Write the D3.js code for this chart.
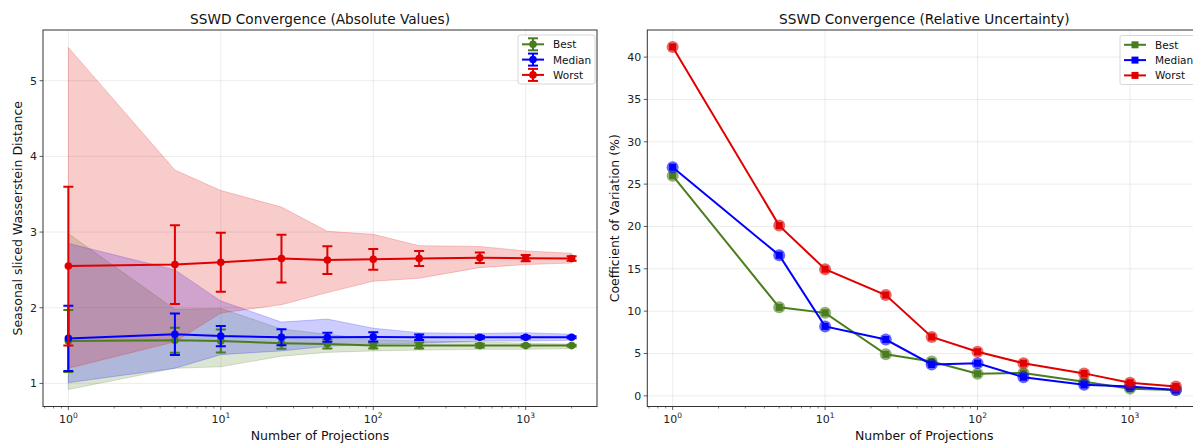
<!DOCTYPE html>
<html>
<head>
<meta charset="utf-8">
<script src="https://cdn.jsdelivr.net/npm/d3@7"></script>
<style>
  body { margin: 0; background: #fff; }
  svg { display: block; overflow: hidden; font-family: "DejaVu Sans", sans-serif; }
</style>
</head>
<body>
<svg id="chart" width="1193" height="443"></svg>
<script>
// number of projections
const projections = [1, 5, 10, 25, 50, 100, 200, 500, 1000, 2000];

// absolute values: mean, std (error bars), min/max (bands)
const bestMean = [1.56, 1.57, 1.56, 1.53, 1.52, 1.50, 1.50, 1.50, 1.50, 1.50];
const bestStd = [0.41, 0.165, 0.153, 0.073, 0.059, 0.039, 0.04, 0.024, 0.013, 0.011];
const bestMin = [0.92, 1.20, 1.22, 1.36, 1.41, 1.43, 1.44, 1.45, 1.45, 1.46];
const bestMax = [2.98, 1.98, 1.99, 1.72, 1.65, 1.58, 1.56, 1.55, 1.53, 1.52];

const medianMean = [1.595, 1.65, 1.625, 1.61, 1.61, 1.615, 1.61, 1.61, 1.61, 1.61];
const medianStd = [0.43, 0.275, 0.133, 0.106, 0.06, 0.062, 0.035, 0.021, 0.017, 0.012];
const medianMin = [1.01, 1.20, 1.38, 1.43, 1.49, 1.52, 1.53, 1.56, 1.56, 1.57];
const medianMax = [2.85, 2.50, 2.09, 1.81, 1.85, 1.73, 1.67, 1.66, 1.67, 1.65];

const worstMean = [2.55, 2.57, 2.60, 2.65, 2.63, 2.64, 2.65, 2.66, 2.655, 2.65];
const worstStd = [1.05, 0.52, 0.39, 0.315, 0.183, 0.137, 0.10, 0.07, 0.042, 0.03];
const worstMin = [1.20, 1.55, 1.93, 2.04, 2.20, 2.35, 2.39, 2.53, 2.57, 2.59];
const worstMax = [5.44, 3.82, 3.55, 3.33, 3.01, 2.97, 2.82, 2.81, 2.75, 2.72];

// relative uncertainty (coefficient of variation, %)
const cvBest = [26.0, 10.45, 9.8, 4.9, 4.05, 2.6, 2.7, 1.65, 0.85, 0.7];
const cvMedian = [27.0, 16.6, 8.2, 6.65, 3.7, 3.85, 2.2, 1.3, 1.1, 0.7];
const cvWorst = [41.2, 20.1, 14.95, 11.9, 6.95, 5.2, 3.85, 2.65, 1.55, 1.1];

const seriesNames = ["Best", "Median", "Worst"];
const seriesColors = ["#4a7d1e", "#0000ff", "#e00000"];
const absTicks = [1, 2, 3, 4, 5];
const cvTicks = [0, 5, 10, 15, 20, 25, 30, 35, 40];
const xTicks = [1, 10, 100, 1000];

const absSeries = [
  { mean: bestMean, std: bestStd, lo: bestMin, hi: bestMax },
  { mean: medianMean, std: medianStd, lo: medianMin, hi: medianMax },
  { mean: worstMean, std: worstStd, lo: worstMin, hi: worstMax },
];
const cvSeries = [cvBest, cvMedian, cvWorst];

const svg = d3.select("#chart");
const panelH = { top: 30, bottom: 406.5 };
const panelW = 554;

function drawFrame(g, x, y, yTicks, title, yLabel, labelGap) {
  const [x0, x1] = x.range();
  const [y0, y1] = y.range();

  // grid
  g.append("g").selectAll("line").data(xTicks).join("line")
    .attr("x1", d => x(d)).attr("x2", d => x(d))
    .attr("y1", y1).attr("y2", y0)
    .attr("stroke", "#b0b0b0").attr("stroke-opacity", 0.3).attr("stroke-width", 0.8);
  g.append("g").selectAll("line").data(yTicks).join("line")
    .attr("x1", x0).attr("x2", x1)
    .attr("y1", d => y(d)).attr("y2", d => y(d))
    .attr("stroke", "#b0b0b0").attr("stroke-opacity", 0.3).attr("stroke-width", 0.8);

  // x axis with log ticks
  const xa = g.append("g").attr("transform", `translate(0,${y0})`);
  const minor = [];
  for (let k = -1; k <= 3; k++) {
    for (let m = 2; m <= 9; m++) {
      const v = m * Math.pow(10, k);
      if (v >= x.domain()[0] && v <= x.domain()[1]) minor.push(v);
    }
  }
  xa.selectAll(".minor").data(minor).join("line")
    .attr("x1", d => x(d)).attr("x2", d => x(d))
    .attr("y1", 0).attr("y2", 2)
    .attr("stroke", "#333").attr("stroke-width", 0.6);
  xa.selectAll(".major").data(xTicks).join("line")
    .attr("x1", d => x(d)).attr("x2", d => x(d))
    .attr("y1", 0).attr("y2", 3.5)
    .attr("stroke", "#333").attr("stroke-width", 0.8);
  const lbl = xa.selectAll("text").data(xTicks).join("text")
    .attr("x", d => x(d)).attr("y", 16)
    .attr("text-anchor", "middle")
    .attr("font-size", 11).attr("fill", "#222");
  lbl.append("tspan").text("10");
  lbl.append("tspan").attr("dy", -5).attr("font-size", 7.5).text(d => Math.round(Math.log10(d)));

  // y axis
  const ya = g.append("g").attr("transform", `translate(${x0},0)`);
  ya.selectAll("line").data(yTicks).join("line")
    .attr("x1", -3.5).attr("x2", 0)
    .attr("y1", d => y(d)).attr("y2", d => y(d))
    .attr("stroke", "#333").attr("stroke-width", 0.8);
  ya.selectAll("text").data(yTicks).join("text")
    .attr("x", -6).attr("y", d => y(d) + 4)
    .attr("text-anchor", "end")
    .attr("font-size", 11).attr("fill", "#222")
    .text(d => d);

  // labels
  g.append("text")
    .attr("x", (x0 + x1) / 2).attr("y", 23.5)
    .attr("text-anchor", "middle").attr("font-size", 13.7).attr("fill", "#111")
    .text(title);
  g.append("text")
    .attr("x", (x0 + x1) / 2).attr("y", 439.5)
    .attr("text-anchor", "middle").attr("font-size", 12.5).attr("fill", "#111")
    .text("Number of Projections");
  g.append("text")
    .attr("transform", `translate(${x0 - labelGap},${(y0 + y1) / 2}) rotate(-90)`)
    .attr("text-anchor", "middle").attr("font-size", 12.5).attr("fill", "#111")
    .text(yLabel);
}

function drawSpines(g, x, y) {
  const [x0, x1] = x.range();
  const [y0, y1] = y.range();
  g.append("rect")
    .attr("x", x0).attr("y", y1)
    .attr("width", x1 - x0).attr("height", y0 - y1)
    .attr("fill", "none").attr("stroke", "#333").attr("stroke-width", 1);
}

function drawLegend(g, left, top, symbol) {
  const lg = g.append("g").attr("transform", `translate(${left},${top})`);
  lg.append("rect")
    .attr("width", 77).attr("height", 49).attr("rx", 2)
    .attr("fill", "#fff").attr("fill-opacity", 0.8)
    .attr("stroke", "#ccc").attr("stroke-width", 0.8);
  seriesNames.forEach((name, i) => {
    const cy = 9.3 + i * 15.3;
    const c = seriesColors[i];
    const e = lg.append("g").attr("transform", `translate(4,${cy})`);
    e.append("line").attr("x1", 0).attr("x2", 22).attr("y1", 0).attr("y2", 0)
      .attr("stroke", c).attr("stroke-width", 2);
    symbol(e, c);
    lg.append("text").attr("x", 35).attr("y", cy + 4)
      .attr("font-size", 10.5).attr("fill", "#111").text(name);
  });
}

// ---------- left panel: absolute values ----------
const xL = d3.scaleLog().domain([0.682, 2935]).range([43, 43 + panelW]);
const yL = d3.scaleLinear().domain([0.695, 5.67]).range([panelH.bottom, panelH.top]);
const gL = svg.append("g");
drawFrame(gL, xL, yL, absTicks, "SSWD Convergence (Absolute Values)",
  "Seasonal sliced Wasserstein Distance", 21);

svg.append("clipPath").attr("id", "clipL").append("rect")
  .attr("x", 43).attr("y", panelH.top).attr("width", panelW).attr("height", panelH.bottom - panelH.top);
const plotL = gL.append("g").attr("clip-path", "url(#clipL)");

const area = d3.area()
  .x((d, i) => xL(projections[i]))
  .y0(d => yL(d[0])).y1(d => yL(d[1]));

absSeries.forEach((s, k) => {
  const band = s.lo.map((v, i) => [v, s.hi[i]]);
  plotL.append("path").datum(band)
    .attr("d", area)
    .attr("fill", seriesColors[k]).attr("fill-opacity", 0.2)
    .attr("stroke", seriesColors[k]).attr("stroke-opacity", 0.2).attr("stroke-width", 1);
});

const meanLine = d3.line().x((d, i) => xL(projections[i])).y(d => yL(d));
absSeries.forEach((s, k) => {
  const c = seriesColors[k];
  const g = plotL.append("g");
  g.append("path").datum(s.mean).attr("d", meanLine)
    .attr("fill", "none").attr("stroke", c).attr("stroke-width", 2);
  projections.forEach((p, i) => {
    const px = xL(p);
    const top = yL(s.mean[i] + s.std[i]);
    const bot = yL(s.mean[i] - s.std[i]);
    g.append("line").attr("x1", px).attr("x2", px).attr("y1", top).attr("y2", bot)
      .attr("stroke", c).attr("stroke-width", 2);
    [top, bot].forEach(yy => g.append("line")
      .attr("x1", px - 5).attr("x2", px + 5).attr("y1", yy).attr("y2", yy)
      .attr("stroke", c).attr("stroke-width", 2));
    g.append("circle").attr("cx", px).attr("cy", yL(s.mean[i])).attr("r", 3.8).attr("fill", c);
  });
});
drawSpines(gL, xL, yL);

drawLegend(gL, 518, 35, (e, c) => {
  e.append("line").attr("x1", 11).attr("x2", 11).attr("y1", -6).attr("y2", 6)
    .attr("stroke", c).attr("stroke-width", 2);
  [-6, 6].forEach(yy => e.append("line").attr("x1", 6).attr("x2", 16).attr("y1", yy).attr("y2", yy)
    .attr("stroke", c).attr("stroke-width", 2));
  e.append("circle").attr("cx", 11).attr("cy", 0).attr("r", 3.8).attr("fill", c);
});

// ---------- right panel: coefficient of variation ----------
const xR = d3.scaleLog().domain([0.682, 2935]).range([647.3, 647.3 + panelW]);
const yR = d3.scaleLinear().domain([-1.26, 43.2]).range([panelH.bottom, panelH.top]);
const gR = svg.append("g");
drawFrame(gR, xR, yR, cvTicks, "SSWD Convergence (Relative Uncertainty)",
  "Coefficient of Variation (%)", 28);

const plotR = gR.append("g");
const cvLine = d3.line().x((d, i) => xR(projections[i])).y(d => yR(d));
cvSeries.forEach((vals, k) => {
  const c = seriesColors[k];
  const g = plotR.append("g");
  g.append("path").datum(vals).attr("d", cvLine)
    .attr("fill", "none").attr("stroke", c).attr("stroke-width", 2);
  g.selectAll("rect").data(vals).join("rect")
    .attr("x", (d, i) => xR(projections[i]) - 3.5)
    .attr("y", d => yR(d) - 3.5)
    .attr("width", 7).attr("height", 7).attr("fill", c);
  g.selectAll("circle").data(vals).join("circle")
    .attr("cx", (d, i) => xR(projections[i]))
    .attr("cy", d => yR(d))
    .attr("r", 6).attr("fill", c).attr("fill-opacity", 0.6);
});
drawSpines(gR, xR, yR);

drawLegend(gR, 1120, 35.5, (e, c) => {
  e.append("rect").attr("x", 7.5).attr("y", -3.5).attr("width", 7).attr("height", 7).attr("fill", c);
});
</script>
</body>
</html>
